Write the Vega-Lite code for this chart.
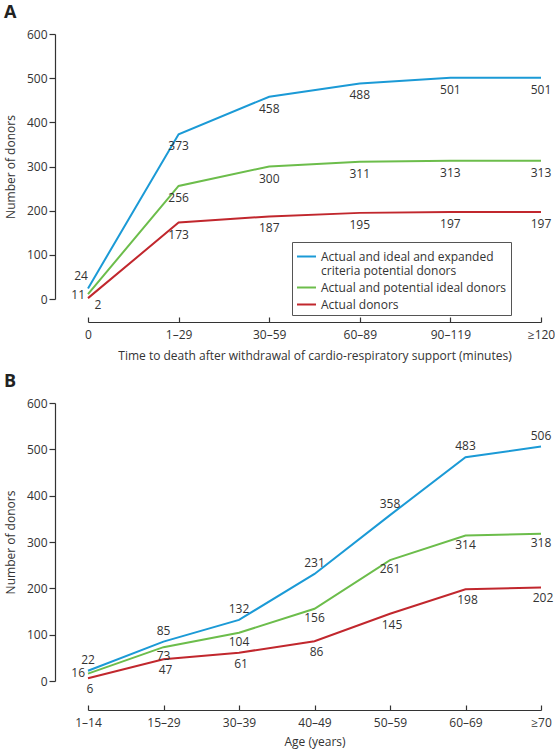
{
  "$schema": "https://vega.github.io/schema/vega-lite/v6.json",
  "padding": {"left": 4, "top": 4, "right": 1, "bottom": 14},
  "background": "white",
  "config": {
    "font": "Open Sans",
    "view": {"stroke": null},
    "axis": {
      "labelFont": "Open Sans",
      "titleFont": "Open Sans",
      "labelFontSize": 12,
      "titleFontSize": 12,
      "titleFontWeight": "normal",
      "labelColor": "#333333",
      "titleColor": "#333333",
      "domainColor": "#333333",
      "tickColor": "#333333",
      "domainWidth": 1.2,
      "tickWidth": 1.2,
      "grid": false
    },
    "text": {"font": "Open Sans", "fontSize": 12, "color": "#333333"}
  },
  "datasets": {
    "time": [
      {"minutes": "0", "group": "Actual and ideal and expanded criteria potential donors", "donors": 24},
      {"minutes": "1–29", "group": "Actual and ideal and expanded criteria potential donors", "donors": 373},
      {"minutes": "30–59", "group": "Actual and ideal and expanded criteria potential donors", "donors": 458},
      {"minutes": "60–89", "group": "Actual and ideal and expanded criteria potential donors", "donors": 488},
      {"minutes": "90–119", "group": "Actual and ideal and expanded criteria potential donors", "donors": 501},
      {"minutes": "≥120", "group": "Actual and ideal and expanded criteria potential donors", "donors": 501},
      {"minutes": "0", "group": "Actual and potential ideal donors", "donors": 11},
      {"minutes": "1–29", "group": "Actual and potential ideal donors", "donors": 256},
      {"minutes": "30–59", "group": "Actual and potential ideal donors", "donors": 300},
      {"minutes": "60–89", "group": "Actual and potential ideal donors", "donors": 311},
      {"minutes": "90–119", "group": "Actual and potential ideal donors", "donors": 313},
      {"minutes": "≥120", "group": "Actual and potential ideal donors", "donors": 313},
      {"minutes": "0", "group": "Actual donors", "donors": 2},
      {"minutes": "1–29", "group": "Actual donors", "donors": 173},
      {"minutes": "30–59", "group": "Actual donors", "donors": 187},
      {"minutes": "60–89", "group": "Actual donors", "donors": 195},
      {"minutes": "90–119", "group": "Actual donors", "donors": 197},
      {"minutes": "≥120", "group": "Actual donors", "donors": 197}
    ],
    "age": [
      {"age": "1–14", "group": "Actual and ideal and expanded criteria potential donors", "donors": 22},
      {"age": "15–29", "group": "Actual and ideal and expanded criteria potential donors", "donors": 85},
      {"age": "30–39", "group": "Actual and ideal and expanded criteria potential donors", "donors": 132},
      {"age": "40–49", "group": "Actual and ideal and expanded criteria potential donors", "donors": 231},
      {"age": "50–59", "group": "Actual and ideal and expanded criteria potential donors", "donors": 358},
      {"age": "60–69", "group": "Actual and ideal and expanded criteria potential donors", "donors": 483},
      {"age": "≥70", "group": "Actual and ideal and expanded criteria potential donors", "donors": 506},
      {"age": "1–14", "group": "Actual and potential ideal donors", "donors": 16},
      {"age": "15–29", "group": "Actual and potential ideal donors", "donors": 73},
      {"age": "30–39", "group": "Actual and potential ideal donors", "donors": 104},
      {"age": "40–49", "group": "Actual and potential ideal donors", "donors": 156},
      {"age": "50–59", "group": "Actual and potential ideal donors", "donors": 261},
      {"age": "60–69", "group": "Actual and potential ideal donors", "donors": 314},
      {"age": "≥70", "group": "Actual and potential ideal donors", "donors": 318},
      {"age": "1–14", "group": "Actual donors", "donors": 6},
      {"age": "15–29", "group": "Actual donors", "donors": 47},
      {"age": "30–39", "group": "Actual donors", "donors": 61},
      {"age": "40–49", "group": "Actual donors", "donors": 86},
      {"age": "50–59", "group": "Actual donors", "donors": 145},
      {"age": "60–69", "group": "Actual donors", "donors": 198},
      {"age": "≥70", "group": "Actual donors", "donors": 202}
    ]
  },
  "spacing": 12,
  "vconcat": [
    {
      "title": {"text": "A", "anchor": "start", "frame": "group", "dx": -84, "fontSize": 18, "fontWeight": "bold", "color": "#222222", "offset": 6},
      "width": 453,
      "height": 265,
      "data": {"name": "time"},
      "encoding": {
        "x": {
          "field": "minutes",
          "type": "ordinal",
          "sort": ["0", "1–29", "30–59", "60–89", "90–119", "≥120"],
          "scale": {"type": "point", "padding": 0},
          "axis": {"labelAngle": 0, "offset": 23, "tickSize": -5, "labelPadding": 12, "title": "Time to death after withdrawal of cardio-respiratory support (minutes)", "titlePadding": 10}
        },
        "y": {
          "field": "donors",
          "type": "quantitative",
          "scale": {"domain": [0, 600]},
          "axis": {"offset": 33, "values": [0, 100, 200, 300, 400, 500, 600], "tickSize": 6, "labelPadding": 2, "title": "Number of donors", "titlePadding": 9}
        }
      },
      "layer": [
        {
          "mark": {"type": "line", "strokeWidth": 2},
          "encoding": {
            "color": {
              "field": "group",
              "type": "nominal",
              "scale": {
                "domain": ["Actual and ideal and expanded criteria potential donors", "Actual and potential ideal donors", "Actual donors"],
                "range": ["#1b9ad6", "#6cbd4b", "#c1272d"]
              },
              "legend": {
                "orient": "none",
                "legendX": 204,
                "legendY": 208,
                "title": null,
                "strokeColor": "#555555",
                "padding": 4,
                "symbolType": "stroke",
                "symbolStrokeWidth": 2,
                "symbolSize": 360,
                "labelFont": "Open Sans",
                "labelFontSize": 12,
                "labelColor": "#333333",
                "labelLimit": 300,
                "rowPadding": 0,
                "labelExpr": "datum.label == 'Actual and ideal and expanded criteria potential donors' ? ['Actual and ideal and expanded', 'criteria potential donors'] : datum.label"
              }
            }
          }
        },
        {
          "transform": [{"filter": "datum.minutes != '0'"}],
          "mark": {"type": "text", "dy": 12, "baseline": "middle"},
          "encoding": {"text": {"field": "donors", "type": "quantitative"}}
        },
        {
          "transform": [{"filter": "datum.minutes == '0' && datum.donors == 24"}],
          "mark": {"type": "text", "dx": -7, "dy": -12, "baseline": "middle"},
          "encoding": {"text": {"field": "donors", "type": "quantitative"}}
        },
        {
          "transform": [{"filter": "datum.minutes == '0' && datum.donors == 11"}],
          "mark": {"type": "text", "dx": -3, "dy": 1, "align": "right", "baseline": "middle"},
          "encoding": {"text": {"field": "donors", "type": "quantitative"}}
        },
        {
          "transform": [{"filter": "datum.minutes == '0' && datum.donors == 2"}],
          "mark": {"type": "text", "dx": 10, "dy": 7, "baseline": "middle"},
          "encoding": {"text": {"field": "donors", "type": "quantitative"}}
        }
      ]
    },
    {
      "title": {"text": "B", "anchor": "start", "frame": "group", "dx": -84, "fontSize": 18, "fontWeight": "bold", "color": "#222222", "offset": 6},
      "width": 453,
      "height": 278,
      "data": {"name": "age"},
      "encoding": {
        "x": {
          "field": "age",
          "type": "ordinal",
          "sort": ["1–14", "15–29", "30–39", "40–49", "50–59", "60–69", "≥70"],
          "scale": {"type": "point", "padding": 0},
          "axis": {"labelAngle": 0, "offset": 29, "tickSize": -5, "labelPadding": 12, "title": "Age (years)", "titlePadding": 8}
        },
        "y": {
          "field": "donors",
          "type": "quantitative",
          "scale": {"domain": [0, 600]},
          "axis": {"offset": 33, "values": [0, 100, 200, 300, 400, 500, 600], "tickSize": 6, "labelPadding": 2, "title": "Number of donors", "titlePadding": 9}
        }
      },
      "layer": [
        {
          "mark": {"type": "line", "strokeWidth": 2},
          "encoding": {
            "color": {
              "field": "group",
              "type": "nominal",
              "scale": {
                "domain": ["Actual and ideal and expanded criteria potential donors", "Actual and potential ideal donors", "Actual donors"],
                "range": ["#1b9ad6", "#6cbd4b", "#c1272d"]
              },
              "legend": null
            }
          }
        },
        {
          "transform": [{"filter": "datum.group == 'Actual and ideal and expanded criteria potential donors'"}],
          "mark": {"type": "text", "dy": -11, "baseline": "middle"},
          "encoding": {"text": {"field": "donors", "type": "quantitative"}}
        },
        {
          "transform": [{"filter": "datum.group == 'Actual and potential ideal donors' && datum.age != '1–14'"}],
          "mark": {"type": "text", "dy": 9, "baseline": "middle"},
          "encoding": {"text": {"field": "donors", "type": "quantitative"}}
        },
        {
          "transform": [{"filter": "datum.group == 'Actual and potential ideal donors' && datum.age == '1–14'"}],
          "mark": {"type": "text", "dx": -3, "dy": -1, "align": "right", "baseline": "middle"},
          "encoding": {"text": {"field": "donors", "type": "quantitative"}}
        },
        {
          "transform": [{"filter": "datum.group == 'Actual donors'"}],
          "mark": {"type": "text", "dx": 2, "dy": 11, "baseline": "middle"},
          "encoding": {"text": {"field": "donors", "type": "quantitative"}}
        }
      ]
    }
  ],
  "resolve": {"legend": {"color": "independent"}}
}
